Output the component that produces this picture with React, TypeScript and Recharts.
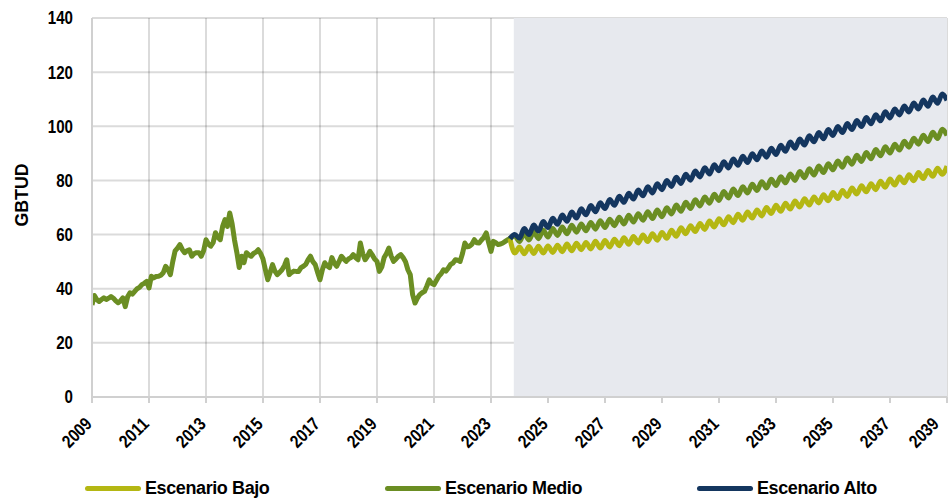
import React from "react";
import {
  LineChart,
  Line,
  XAxis,
  YAxis,
  CartesianGrid,
  ReferenceArea,
} from "recharts";

// historico mensual, ene-2009 a sep-2023 (GBTUD)
const historico = [
  34, 37.5, 36, 35.3, 36, 36.6, 36, 36.5, 37.1, 36.5, 35.5, 34.8,
  35.5, 36.6, 33.4, 37, 38.5, 38, 39, 40, 40.5, 41.5, 42, 42.7,
  40.3, 44.6, 44, 44.5, 44.6, 45, 45.9, 48.3, 47, 45.2, 50, 54,
  55, 56.3, 54.5, 53.3, 54, 54.4, 52, 53, 53.3, 53.3, 52, 54,
  58.1, 56.5, 55.7, 57, 60.7, 59, 58.1, 63, 65.5, 63, 68, 64,
  58, 53.3, 47.8, 52, 49.6, 53.3, 52.5, 52, 53, 53.5, 54.4, 53,
  51, 47, 43.3, 46, 48.9, 46.5, 45.2, 46, 47, 48.5, 50.7, 45.2,
  46, 46.5, 46.4, 46.4, 47.8, 48.3, 49, 50.7, 52, 50, 48.9, 46,
  43.3, 47, 49.6, 48.5, 47.8, 51.5, 49.5, 48.3, 50, 52, 51, 50.1,
  51, 51.5, 52.6, 51.5, 50.7, 56.9, 53, 50.7, 52, 53.8, 52.5, 51,
  50.1, 46.4, 48, 51.5, 53, 55, 52, 50.1, 51, 52, 52.6, 51.5,
  50, 47, 45.2, 37.8, 34.7, 36.5, 37.8, 38.5, 39, 41, 43.3, 42,
  41.5, 43, 44.6, 45.5, 47, 46.5, 47.6, 49, 49.5, 50.7, 50.5, 50.1,
  53, 56.9, 55.5, 55.7, 56.5, 58.1, 57, 56.9, 58, 59, 60.6, 57,
  53.8, 57.5, 57, 56.3, 56.5, 56.9, 57.5, 58.1, 58.5,
];

// proyecciones bimestrales, sep-2023 a ene-2039
const escenarioBajo = [
  58.5, 53.2, 55.4, 52.9, 55.6, 53.0, 55.7, 53.2, 55.8, 53.4,
  56.1, 53.7, 56.5, 54.0, 56.8, 54.4, 57.1, 54.7, 57.5, 55.0,
  57.8, 55.4, 58.3, 55.9, 58.8, 56.4, 59.3, 56.9, 59.8, 57.4,
  60.3, 57.9, 60.8, 58.6, 61.6, 59.4, 62.5, 60.3, 63.3, 61.1,
  64.1, 61.9, 65.0, 62.8, 65.8, 63.6, 66.6, 64.4, 67.5, 65.3,
  68.3, 66.1, 69.1, 66.9, 70.0, 67.8, 70.8, 68.6, 71.6, 69.4,
  72.4, 70.2, 73.2, 70.9, 73.9, 71.7, 74.7, 72.5, 75.5, 73.3,
  76.3, 74.1, 77.2, 75.0, 78.0, 75.8, 78.8, 76.6, 79.7, 77.5,
  80.5, 78.3, 81.3, 79.1, 82.1, 79.9, 82.9, 80.7, 83.7, 81.5,
  84.5, 82.3, 85.3,
];

const escenarioMedio = [
  58.5, 59.5, 57.4, 60.5, 58.0, 61.0, 58.5, 61.6, 59.1, 62.2,
  59.7, 62.8, 60.3, 63.4, 60.9, 63.9, 61.4, 64.5, 62.0, 65.1,
  62.6, 65.7, 63.3, 66.4, 63.9, 67.1, 64.6, 67.7, 65.3, 68.4,
  65.9, 69.1, 66.6, 69.9, 67.6, 70.9, 68.6, 71.9, 69.6, 72.9,
  70.6, 73.9, 71.6, 74.9, 72.6, 75.9, 73.5, 76.8, 74.4, 77.7,
  75.4, 78.6, 76.3, 79.5, 77.2, 80.4, 78.1, 81.4, 79.1, 82.4,
  80.0, 83.3, 81.0, 84.3, 82.0, 85.3, 82.9, 86.2, 83.9, 87.2,
  84.9, 88.3, 86.0, 89.3, 87.0, 90.3, 88.0, 91.4, 89.1, 92.4,
  90.1, 93.4, 91.2, 94.5, 92.3, 95.6, 93.4, 96.7, 94.4, 97.8,
  95.5, 98.9, 96.6,
];

const escenarioAlto = [
  58.5, 60.0, 58.7, 62.2, 60.0, 63.5, 61.3, 64.8, 62.6, 66.0,
  63.8, 67.2, 64.9, 68.3, 66.1, 69.5, 67.3, 70.7, 68.4, 71.8,
  69.6, 73.0, 70.8, 74.2, 71.9, 75.3, 73.1, 76.5, 74.3, 77.7,
  75.4, 78.8, 76.6, 80.0, 77.8, 81.2, 78.9, 82.3, 80.1, 83.5,
  81.3, 84.7, 82.4, 85.8, 83.6, 86.9, 84.6, 87.9, 85.6, 88.9,
  86.6, 89.9, 87.6, 90.9, 88.6, 91.9, 89.6, 93.0, 90.8, 94.2,
  91.9, 95.3, 93.1, 96.5, 94.3, 97.7, 95.4, 98.8, 96.6, 99.9,
  97.7, 101.0, 98.8, 102.1, 99.9, 103.2, 100.9, 104.3, 102.0, 105.4,
  103.1, 106.4, 104.2, 107.5, 105.3, 108.6, 106.4, 109.7, 107.4, 110.8,
  108.5, 111.9, 109.6,
];

const anios = [2009, 2011, 2013, 2015, 2017, 2019, 2021, 2023, 2025, 2027, 2029, 2031, 2033, 2035, 2037, 2039];
const valoresY = [0, 20, 40, 60, 80, 100, 120, 140];
const inicioProyeccion = 2023.8;

const histData = historico.map((v, i) => ({ t: 2009 + i / 12, v }));
const proy = (serie: number[]) => serie.map((v, k) => ({ t: 2023 + (8 + 2 * k) / 12, v }));

const FONT = '"Liberation Sans", Arial, sans-serif';
const DIGIT_W = 8.4;

const VERDE = "#6b8e23";
const AMARILLO = "#b4b713";
const AZUL = "#14365f";

const XTick = ({ x, y, payload }: any) => {
  // el ultimo año queda pegado al borde derecho
  const tx = Math.min(x + 1, 940);
  const ty = y + 20;
  const s = String(payload.value);
  return (
    <text
      x={tx}
      y={ty}
      transform={`rotate(-45 ${tx} ${ty})`}
      textAnchor="end"
      fontFamily={FONT}
      fontWeight="bold"
      fontSize={18}
      fill="#000"
      textLength={s.length * DIGIT_W}
      lengthAdjust="spacingAndGlyphs"
    >
      {s}
    </text>
  );
};

const YTick = ({ y, payload }: any) => {
  const s = String(payload.value);
  return (
    <text
      x={73}
      y={y}
      dy="0.36em"
      textAnchor="end"
      fontFamily={FONT}
      fontWeight="bold"
      fontSize={18}
      fill="#000"
      textLength={s.length * DIGIT_W}
      lengthAdjust="spacingAndGlyphs"
    >
      {s}
    </text>
  );
};

const legendItems = [
  { name: "Escenario Bajo", color: AMARILLO, left: 85 },
  { name: "Escenario Medio", color: VERDE, left: 385 },
  { name: "Escenario Alto", color: AZUL, left: 697 },
];

export default function App() {
  return (
    <div style={{ position: "absolute", left: 0, top: 0, width: 949, height: 502, background: "#fff" }}>
      <LineChart width={949} height={502} margin={{ top: 18, right: 2, left: 0, bottom: 0 }}>
        <ReferenceArea x1={inicioProyeccion} x2={2039} y1={0} y2={140} fill="#e7e9ee" fillOpacity={1} stroke="none" />
        <CartesianGrid stroke="#000" strokeOpacity={0.14} strokeWidth={2} />
        <XAxis
          type="number"
          dataKey="t"
          domain={[2009, 2039]}
          ticks={anios}
          interval={0}
          height={105}
          tick={<XTick />}
          stroke="#d0d0d0"
          strokeWidth={2}
          tickSize={6}
          allowDataOverflow
        />
        <YAxis
          type="number"
          domain={[0, 140]}
          ticks={valoresY}
          width={92}
          tickLine={false}
          stroke="#d0d0d0"
          strokeWidth={2}
          tick={<YTick />}
          label={() => (
            <text
              x={22}
              y={195}
              transform="rotate(-90 22 195)"
              textAnchor="middle"
              dominantBaseline="central"
              fontFamily={FONT}
              fontWeight="bold"
              fontSize={18}
              fill="#000"
              textLength={63}
              lengthAdjust="spacingAndGlyphs"
            >
              GBTUD
            </text>
          )}
        />
        <Line data={histData} dataKey="v" stroke={VERDE} strokeWidth={5} dot={false} isAnimationActive={false} type="linear" strokeLinejoin="round" />
        <Line data={proy(escenarioBajo)} dataKey="v" stroke={AMARILLO} strokeWidth={5} dot={false} isAnimationActive={false} type="monotone" />
        <Line data={proy(escenarioMedio)} dataKey="v" stroke={VERDE} strokeWidth={5} dot={false} isAnimationActive={false} type="monotone" />
        <Line data={proy(escenarioAlto)} dataKey="v" stroke={AZUL} strokeWidth={5} dot={false} isAnimationActive={false} type="monotone" />
      </LineChart>
      {legendItems.map((it) => (
        <div
          key={it.name}
          style={{
            position: "absolute",
            left: it.left,
            top: 478,
            display: "flex",
            alignItems: "center",
            fontFamily: FONT,
            fontWeight: "bold",
            fontSize: 18,
            letterSpacing: -0.4,
            color: "#000",
            whiteSpace: "nowrap",
          }}
        >
          <span style={{ display: "inline-block", width: 56, height: 5, borderRadius: 3, background: it.color, marginRight: 4 }} />
          {it.name}
        </div>
      ))}
    </div>
  );
}
